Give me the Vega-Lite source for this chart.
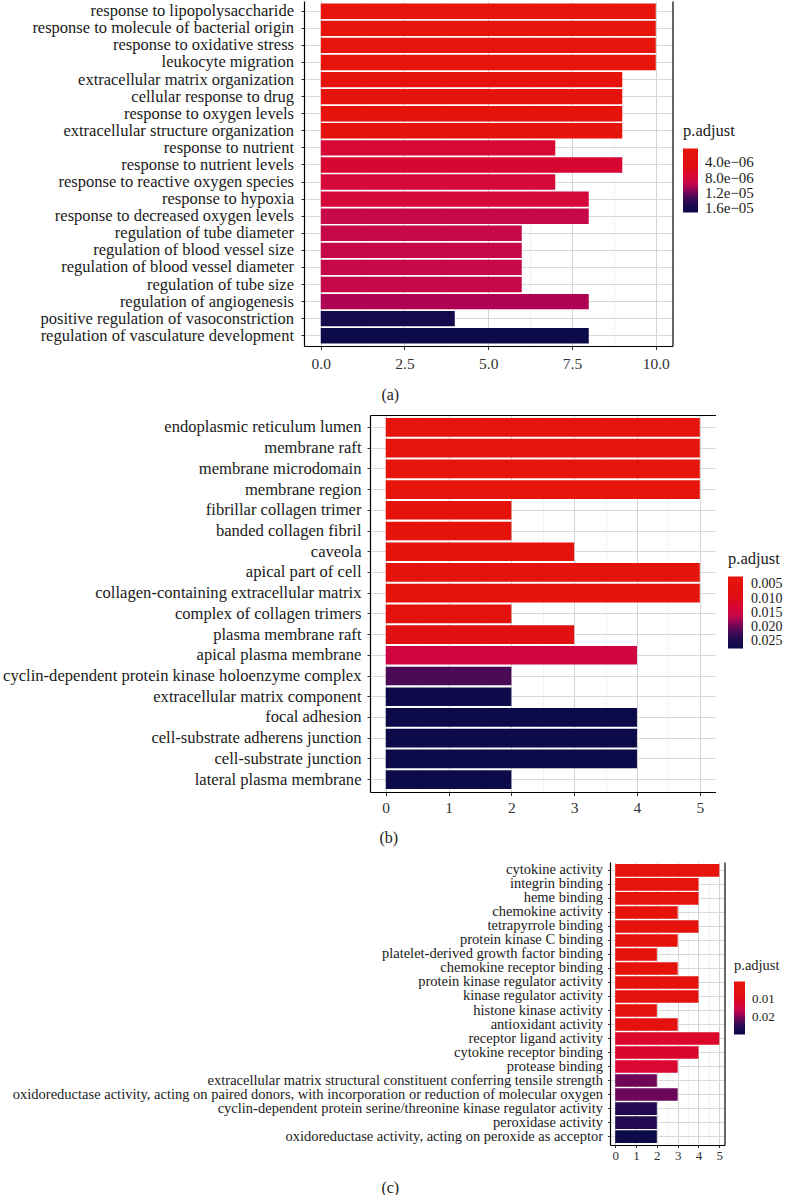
{
  "$schema": "https://vega.github.io/schema/vega-lite/v6.json",
  "background": "white",
  "padding": {"left": 0, "top": 1, "right": 0, "bottom": 0},
  "config": {
    "font": "Liberation Serif",
    "view": {"stroke": null},
    "title": {"font": "Liberation Serif", "fontSize": 16, "fontWeight": "normal", "color": "#222"}
  },
  "datasets": {
    "a": [
      {"term": "response to lipopolysaccharide", "count": 10, "padj": 3.2e-7},
      {"term": "response to molecule of bacterial origin", "count": 10, "padj": 3.2e-7},
      {"term": "response to oxidative stress", "count": 10, "padj": 4.0e-7},
      {"term": "leukocyte migration", "count": 10, "padj": 5.0e-7},
      {"term": "extracellular matrix organization", "count": 9, "padj": 1.0e-6},
      {"term": "cellular response to drug", "count": 9, "padj": 1.1e-6},
      {"term": "response to oxygen levels", "count": 9, "padj": 1.2e-6},
      {"term": "extracellular structure organization", "count": 9, "padj": 1.3e-6},
      {"term": "response to nutrient", "count": 7, "padj": 7.6e-6},
      {"term": "response to nutrient levels", "count": 9, "padj": 7.4e-6},
      {"term": "response to reactive oxygen species", "count": 7, "padj": 7.9e-6},
      {"term": "response to hypoxia", "count": 8, "padj": 8.0e-6},
      {"term": "response to decreased oxygen levels", "count": 8, "padj": 9.3e-6},
      {"term": "regulation of tube diameter", "count": 6, "padj": 9.4e-6},
      {"term": "regulation of blood vessel size", "count": 6, "padj": 9.4e-6},
      {"term": "regulation of blood vessel diameter", "count": 6, "padj": 9.4e-6},
      {"term": "regulation of tube size", "count": 6, "padj": 9.4e-6},
      {"term": "regulation of angiogenesis", "count": 8, "padj": 1.03e-5},
      {"term": "positive regulation of vasoconstriction", "count": 4, "padj": 1.63e-5},
      {"term": "regulation of vasculature development", "count": 8, "padj": 1.716e-5}
    ],
    "b": [
      {"term": "endoplasmic reticulum lumen", "count": 5, "padj": 0.0023},
      {"term": "membrane raft", "count": 5, "padj": 0.0024},
      {"term": "membrane microdomain", "count": 5, "padj": 0.0024},
      {"term": "membrane region", "count": 5, "padj": 0.0025},
      {"term": "fibrillar collagen trimer", "count": 2, "padj": 0.003},
      {"term": "banded collagen fibril", "count": 2, "padj": 0.003},
      {"term": "caveola", "count": 3, "padj": 0.0035},
      {"term": "apical part of cell", "count": 5, "padj": 0.0035},
      {"term": "collagen-containing extracellular matrix", "count": 5, "padj": 0.0036},
      {"term": "complex of collagen trimers", "count": 2, "padj": 0.0045},
      {"term": "plasma membrane raft", "count": 3, "padj": 0.007},
      {"term": "apical plasma membrane", "count": 4, "padj": 0.0145},
      {"term": "cyclin-dependent protein kinase holoenzyme complex", "count": 2, "padj": 0.0212},
      {"term": "extracellular matrix component", "count": 2, "padj": 0.0268},
      {"term": "focal adhesion", "count": 4, "padj": 0.0274},
      {"term": "cell-substrate adherens junction", "count": 4, "padj": 0.0274},
      {"term": "cell-substrate junction", "count": 4, "padj": 0.0274},
      {"term": "lateral plasma membrane", "count": 2, "padj": 0.02745}
    ],
    "c": [
      {"term": "cytokine activity", "count": 5, "padj": 0.0003},
      {"term": "integrin binding", "count": 4, "padj": 0.0006},
      {"term": "heme binding", "count": 4, "padj": 0.0008},
      {"term": "chemokine activity", "count": 3, "padj": 0.001},
      {"term": "tetrapyrrole binding", "count": 4, "padj": 0.0012},
      {"term": "protein kinase C binding", "count": 3, "padj": 0.0015},
      {"term": "platelet-derived growth factor binding", "count": 2, "padj": 0.0018},
      {"term": "chemokine receptor binding", "count": 3, "padj": 0.002},
      {"term": "protein kinase regulator activity", "count": 4, "padj": 0.0025},
      {"term": "kinase regulator activity", "count": 4, "padj": 0.0028},
      {"term": "histone kinase activity", "count": 2, "padj": 0.003},
      {"term": "antioxidant activity", "count": 3, "padj": 0.0035},
      {"term": "receptor ligand activity", "count": 5, "padj": 0.0115},
      {"term": "cytokine receptor binding", "count": 4, "padj": 0.012},
      {"term": "protease binding", "count": 3, "padj": 0.0125},
      {"term": "extracellular matrix structural constituent conferring tensile strength", "count": 2, "padj": 0.0208},
      {"term": "oxidoreductase activity, acting on paired donors, with incorporation or reduction of molecular oxygen", "count": 3, "padj": 0.021},
      {"term": "cyclin-dependent protein serine/threonine kinase regulator activity", "count": 2, "padj": 0.0258},
      {"term": "peroxidase activity", "count": 2, "padj": 0.0258},
      {"term": "oxidoreductase activity, acting on peroxide as acceptor", "count": 2, "padj": 0.0298}
    ]
  },
  "vconcat": [
    {
      "spacing": 0,
      "hconcat": [
        {"width": 1, "height": 1, "data": {"values": []}, "mark": "point"},
        {
          "width": 368.5,
          "height": 345,
          "data": {"name": "a"},
          "title": {"text": "(a)", "orient": "bottom", "anchor": "middle", "offset": 15, "dx": -98},
          "layer": [
            {
              "mark": {"type": "bar"},
              "encoding": {
                "y": {
                  "field": "term", "type": "nominal", "sort": null,
                  "scale": {"paddingInner": 0.1, "paddingOuter": 0.15},
                  "axis": {
                    "title": " ", "titleFontSize": 1, "titlePadding": 0, "minExtent": 301.5, "maxExtent": 301.5,
                    "labelFontSize": 16.5, "labelColor": "#1a1a1a", "labelLimit": 0, "labelPadding": 7.5, "labelOverlap": false,
                    "tickSize": 3, "tickColor": "#333", "domainColor": "#000", "domainWidth": 1.2,
                    "grid": true, "gridColor": "#D9D9D9", "gridWidth": 1
                  }
                },
                "x": {
                  "field": "count", "type": "quantitative",
                  "scale": {"domain": [-0.5, 10.5], "nice": false, "zero": false},
                  "axis": {
                    "title": null, "values": [0, 1.25, 2.5, 3.75, 5, 6.25, 7.5, 8.75, 10], "tickCount": 20,
                    "labelExpr": "datum.value % 2.5 == 0 ? format(datum.value, '.1f') : ''",
                    "labelFontSize": 15.5, "labelColor": "#333", "labelFlush": false, "labelOverlap": false, "labelPadding": 6.5,
                    "tickSize": 3.5, "tickColor": "#333",
                    "tickOpacity": {"condition": {"test": "datum.value % 2.5 == 0", "value": 1}, "value": 0},
                    "domainColor": "#000", "domainWidth": 1.2,
                    "grid": true,
                    "gridColor": {"condition": {"test": "datum.value % 2.5 == 0", "value": "#D4D4D4"}, "value": "#EBEBEB"},
                    "gridWidth": {"condition": {"test": "datum.value % 2.5 == 0", "value": 1}, "value": 0.6}
                  }
                },
                "color": {
                  "field": "padj", "type": "quantitative",
                  "scale": {
                    "domain": [1.716e-5, 1.514e-5, 1.295e-5, 1.1266e-5, 9.582e-6, 7.898e-6, 5.372e-6, 3.2e-7],
                    "range": ["#0C0A48", "#1C0A4F", "#4A0A55", "#8C0A55", "#C40A4C", "#D60A38", "#DE0E14", "#E6140A"]
                  },
                  "legend": {
                    "title": "p.adjust", "orient": "none", "legendX": 683, "legendY": 122, "direction": "vertical",
                    "gradientLength": 64, "gradientThickness": 15, "gradientStrokeWidth": 0,
                    "titleFontSize": 16.5, "titleFontWeight": "normal", "titleColor": "#1a1a1a", "titlePadding": 9,
                    "labelFontSize": 15, "labelColor": "#1a1a1a", "labelOffset": 7, "labelOverlap": false,
                    "values": [4e-6, 8e-6, 1.2e-5, 1.6e-5],
                    "labelExpr": "datum.value < 5e-6 ? '4.0e−06' : datum.value < 1e-5 ? '8.0e−06' : datum.value < 1.4e-5 ? '1.2e−05' : '1.6e−05'"
                  }
                }
              }
            },
            {
              "mark": {"type": "bar", "opacity": 0},
              "encoding": {
                "y": {"field": "term", "type": "nominal", "sort": null,
                  "axis": {"orient": "right", "title": null, "labels": false, "ticks": false, "grid": false, "domainColor": "#000", "domainWidth": 1.2}},
                "x": {"field": "count", "type": "quantitative"}
              }
            }
          ],
          "resolve": {"axis": {"y": "independent"}}
        }
      ]
    },
    {
      "spacing": 15,
      "resolve": {"scale": {"color": "independent"}, "legend": {"color": "independent"}},
      "vconcat": [
        {
          "spacing": 0,
          "hconcat": [
            {"width": 1, "height": 1, "data": {"values": []}, "mark": "point"},
            {
              "width": 345.5,
              "height": 377,
              "data": {"name": "b"},
              "title": {"text": "(b)", "orient": "bottom", "anchor": "middle", "offset": 14.4, "dx": -154},
              "layer": [
                {
                  "mark": {"type": "bar"},
                  "encoding": {
                    "y": {
                      "field": "term", "type": "nominal", "sort": null,
                      "scale": {"paddingInner": 0.1, "paddingOuter": 0.15},
                      "axis": {
                        "title": " ", "titleFontSize": 1, "titlePadding": 0, "minExtent": 367.5, "maxExtent": 367.5,
                        "labelFontSize": 16.6, "labelColor": "#1a1a1a", "labelLimit": 0, "labelPadding": 6, "labelOverlap": false,
                        "tickSize": 3, "tickColor": "#333", "domainColor": "#000", "domainWidth": 1.2,
                        "grid": true, "gridColor": "#D9D9D9", "gridWidth": 1
                      }
                    },
                    "x": {
                      "field": "count", "type": "quantitative",
                      "scale": {"domain": [-0.25, 5.25], "nice": false, "zero": false},
                      "axis": {
                        "title": null, "values": [0, 0.5, 1, 1.5, 2, 2.5, 3, 3.5, 4, 4.5, 5], "tickCount": 20,
                        "labelExpr": "datum.value % 1 == 0 ? format(datum.value, 'd') : ''",
                        "labelFontSize": 15.5, "labelColor": "#333", "labelFlush": false, "labelOverlap": false, "labelPadding": 4.5,
                        "tickSize": 3.5, "tickColor": "#333",
                        "tickOpacity": {"condition": {"test": "datum.value % 1 == 0", "value": 1}, "value": 0},
                        "domainColor": "#000", "domainWidth": 1.2,
                        "grid": true,
                        "gridColor": {"condition": {"test": "datum.value % 1 == 0", "value": "#D4D4D4"}, "value": "#EBEBEB"},
                        "gridWidth": {"condition": {"test": "datum.value % 1 == 0", "value": 1}, "value": 0.6}
                      }
                    },
                    "color": {
                      "field": "padj", "type": "quantitative",
                      "scale": {
                        "domain": [0.02745, 0.024432, 0.021163, 0.018648, 0.016133, 0.013618, 0.009845, 0.0023],
                        "range": ["#0C0A48", "#1C0A4F", "#4A0A55", "#8C0A55", "#C40A4C", "#D60A38", "#DE0E14", "#E6140A"]
                      },
                      "legend": {
                        "title": "p.adjust", "orient": "none", "legendX": 728, "legendY": 136, "direction": "vertical",
                        "gradientLength": 72, "gradientThickness": 15, "gradientStrokeWidth": 0,
                        "titleFontSize": 16.5, "titleFontWeight": "normal", "titleColor": "#1a1a1a", "titlePadding": 9,
                        "labelFontSize": 14, "labelColor": "#1a1a1a", "labelOffset": 8, "labelOverlap": false,
                        "values": [0.005, 0.01, 0.015, 0.02, 0.025], "format": ".3f"
                      }
                    }
                  }
                },
                {
                  "mark": {"type": "bar", "opacity": 0},
                  "encoding": {
                    "y": {"field": "term", "type": "nominal", "sort": null},
                    "x": {"field": "count", "type": "quantitative",
                      "axis": {"orient": "top", "title": null, "labels": false, "ticks": false, "grid": false, "domainColor": "#000", "domainWidth": 1.2}}
                  }
                }
              ],
              "resolve": {"axis": {"x": "independent"}}
            }
          ]
        },
        {
          "spacing": 0,
          "hconcat": [
            {"width": 1, "height": 1, "data": {"values": []}, "mark": "point"},
            {
              "width": 114.5,
              "height": 283,
              "data": {"name": "c"},
              "title": {"text": "(c)", "orient": "bottom", "anchor": "middle", "offset": 17, "dx": -277},
              "layer": [
                {
                  "mark": {"type": "bar"},
                  "encoding": {
                    "y": {
                      "field": "term", "type": "nominal", "sort": null,
                      "scale": {"paddingInner": 0.1, "paddingOuter": 0.15},
                      "axis": {
                        "title": " ", "titleFontSize": 1, "titlePadding": 0, "minExtent": 607.5, "maxExtent": 607.5,
                        "labelFontSize": 14.5, "labelColor": "#1a1a1a", "labelLimit": 0, "labelPadding": 5, "labelOverlap": false,
                        "tickSize": 2.5, "tickColor": "#333", "domainColor": "#000", "domainWidth": 1.2,
                        "grid": true, "gridColor": "#D9D9D9", "gridWidth": 1
                      }
                    },
                    "x": {
                      "field": "count", "type": "quantitative",
                      "scale": {"domain": [-0.25, 5.25], "nice": false, "zero": false},
                      "axis": {
                        "title": null, "values": [0, 0.5, 1, 1.5, 2, 2.5, 3, 3.5, 4, 4.5, 5], "tickCount": 20,
                        "labelExpr": "datum.value % 1 == 0 ? format(datum.value, 'd') : ''",
                        "labelFontSize": 13, "labelColor": "#333", "labelFlush": false, "labelOverlap": false, "labelPadding": 2,
                        "tickSize": 2.5, "tickColor": "#333",
                        "tickOpacity": {"condition": {"test": "datum.value % 1 == 0", "value": 1}, "value": 0},
                        "domainColor": "#000", "domainWidth": 1.2,
                        "grid": true,
                        "gridColor": {"condition": {"test": "datum.value % 1 == 0", "value": "#D4D4D4"}, "value": "#EBEBEB"},
                        "gridWidth": {"condition": {"test": "datum.value % 1 == 0", "value": 1}, "value": 0.6}
                      }
                    },
                    "color": {
                      "field": "padj", "type": "quantitative",
                      "scale": {
                        "domain": [0.0298, 0.02626, 0.022425, 0.019475, 0.016525, 0.013575, 0.00915, 0.0003],
                        "range": ["#0C0A48", "#1C0A4F", "#4A0A55", "#8C0A55", "#C40A4C", "#D60A38", "#DE0E14", "#E6140A"]
                      },
                      "legend": {
                        "title": "p.adjust", "orient": "none", "legendX": 734, "legendY": 97, "direction": "vertical",
                        "gradientLength": 53, "gradientThickness": 11, "gradientStrokeWidth": 0,
                        "titleFontSize": 14.5, "titleFontWeight": "normal", "titleColor": "#1a1a1a", "titlePadding": 8,
                        "labelFontSize": 13, "labelColor": "#1a1a1a", "labelOffset": 7, "labelOverlap": false,
                        "values": [0.01, 0.02], "format": ".2f"
                      }
                    }
                  }
                },
                {
                  "mark": {"type": "bar", "opacity": 0},
                  "encoding": {
                    "y": {"field": "term", "type": "nominal", "sort": null,
                      "axis": {"orient": "right", "title": null, "labels": false, "ticks": false, "grid": false, "domainColor": "#000", "domainWidth": 1.2}},
                    "x": {"field": "count", "type": "quantitative"}
                  }
                }
              ],
              "resolve": {"axis": {"y": "independent"}}
            }
          ]
        }
      ]
    }
  ],
  "spacing": 12,
  "resolve": {"scale": {"color": "independent"}, "legend": {"color": "independent"}}
}
